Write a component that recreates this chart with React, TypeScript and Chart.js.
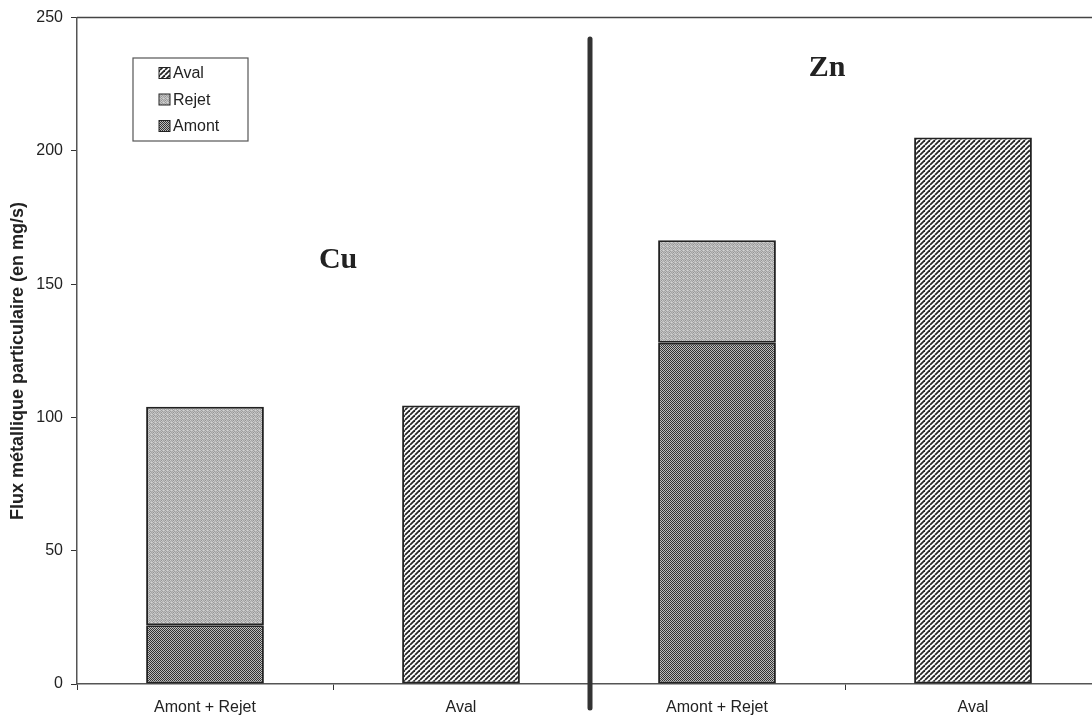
import React, { useEffect, useRef } from "react";
import { Chart, registerables } from "chart.js";

Chart.register(...registerables);

const categories = ["Amont + Rejet", "Aval", "Amont + Rejet", "Aval"];
const amont = [22, null, 128, null];
const rejet = [82, null, 38.5, null];
const aval = [null, 104.5, null, 205];
const yTicks = [0, 50, 100, 150, 200, 250];
const yTitle = "Flux métallique particulaire (en mg/s)";
const annotations = [
  { text: "Cu", index: 0.52, value: 159 },
  { text: "Zn", index: 2.43, value: 231 },
];

const SANS = "'Liberation Sans', Arial, sans-serif";

function makePattern(kind: string): CanvasPattern | string {
  const c = document.createElement("canvas");
  const ctx = c.getContext("2d");
  if (!ctx) return "#888";
  if (kind === "amont") {
    c.width = 2; c.height = 2;
    ctx.fillStyle = "#bdbdbd"; ctx.fillRect(0, 0, 2, 2);
    ctx.fillStyle = "#333"; ctx.fillRect(0, 0, 1, 1); ctx.fillRect(1, 1, 1, 1);
  } else if (kind === "rejet") {
    c.width = 4; c.height = 4;
    const g = [
      ["#bcbcbc", "#939393", "#cacaca", "#a4a4a4"],
      ["#a0a0a0", "#cdcdcd", "#acacac", "#c0c0c0"],
      ["#c6c6c6", "#999999", "#bebebe", "#d2d2d2"],
      ["#a8a8a8", "#c4c4c4", "#9c9c9c", "#b8b8b8"],
    ];
    for (let y = 0; y < 4; y++) for (let x = 0; x < 4; x++) { ctx.fillStyle = g[y][x]; ctx.fillRect(x, y, 1, 1); }
  } else {
    c.width = 5; c.height = 5;
    ctx.fillStyle = "#ffffff"; ctx.fillRect(0, 0, 5, 5);
    ctx.strokeStyle = "#262626"; ctx.lineWidth = 1.8;
    for (let o = -5; o <= 10; o += 5) {
      ctx.beginPath(); ctx.moveTo(o, 5); ctx.lineTo(o + 5, 0); ctx.stroke();
    }
  }
  return ctx.createPattern(c, "repeat") as CanvasPattern;
}

export default function App() {
  const ref = useRef<HTMLCanvasElement>(null);
  useEffect(() => {
    if (!ref.current) return;
    const pA = makePattern("amont");
    const pR = makePattern("rejet");
    const pV = makePattern("aval");
    const decor = {
      id: "decor",
      afterDraw(chart: any) {
        const { ctx, chartArea } = chart;
        const xs = chart.scales.x;
        const ys = chart.scales.y;
        ctx.save();
        // top border
        ctx.strokeStyle = "#444"; ctx.lineWidth = 1.5;
        ctx.beginPath(); ctx.moveTo(chartArea.left, chartArea.top); ctx.lineTo(chartArea.right, chartArea.top); ctx.stroke();
        // vertical separator
        const sx = (xs.getPixelForTick(1) + xs.getPixelForTick(2)) / 2 + 1;
        ctx.strokeStyle = "#333"; ctx.lineWidth = 5; ctx.lineCap = "round";
        ctx.beginPath(); ctx.moveTo(sx, ys.getPixelForValue(242)); ctx.lineTo(sx, chartArea.bottom + 24); ctx.stroke();
        // y-axis title
        ctx.fillStyle = "#222";
        ctx.font = `bold 18px ${SANS}`;
        ctx.textAlign = "center"; ctx.textBaseline = "middle";
        ctx.save();
        ctx.translate(18, 361);
        ctx.rotate(-Math.PI / 2);
        ctx.fillText(yTitle, 0, 0);
        ctx.restore();
        // annotations
        ctx.fillStyle = "#222";
        ctx.font = "bold 30px 'Liberation Serif', 'DejaVu Serif', serif";
        for (const a of annotations) {
          ctx.fillText(a.text, xs.getPixelForValue(a.index), ys.getPixelForValue(a.value));
        }
        // legend
        const lx = 133, ly = 58, lw = 115, lh = 83;
        ctx.fillStyle = "#fff"; ctx.fillRect(lx, ly, lw, lh);
        ctx.strokeStyle = "#555"; ctx.lineWidth = 1.2; ctx.strokeRect(lx, ly, lw, lh);
        const items = [...chart.data.datasets].reverse();
        ctx.font = `16px ${SANS}`;
        ctx.textAlign = "left";
        items.forEach((d: any, i: number) => {
          const cy = ly + 15 + i * 26.5;
          ctx.fillStyle = d.backgroundColor;
          ctx.fillRect(lx + 26, cy - 5.5, 11, 11);
          ctx.strokeStyle = "#222"; ctx.lineWidth = 1;
          ctx.strokeRect(lx + 26, cy - 5.5, 11, 11);
          ctx.fillStyle = "#222";
          ctx.fillText(d.label, lx + 40, cy + 1);
        });
        ctx.restore();
      },
    };
    const common = { borderColor: "#222", borderWidth: 2, borderSkipped: false, barPercentage: 0.46, categoryPercentage: 1 };
    const chart = new Chart(ref.current, {
      type: "bar",
      data: {
        labels: categories,
        datasets: [
          { label: "Amont", data: amont, backgroundColor: pA, ...common },
          { label: "Rejet", data: rejet, backgroundColor: pR, ...common },
          { label: "Aval", data: aval, backgroundColor: pV, ...common },
        ] as any,
      },
      options: {
        animation: false,
        responsive: false,
        layout: { padding: { top: 15, right: 9, left: 0, bottom: 0 } },
        plugins: { legend: { display: false }, tooltip: { enabled: false } },
        scales: {
          x: {
            stacked: true,
            afterFit: (s: any) => { s.height = 39; },
            grid: { drawOnChartArea: false, offset: true, tickLength: 6, color: "#333" },
            border: { color: "#555", width: 1.5 },
            ticks: { color: "#222", padding: 8, font: { family: SANS, size: 16 } },
          },
          y: {
            stacked: true,
            min: 0,
            max: 250,
            afterFit: (s: any) => { s.width = 77; },
            afterBuildTicks: (s: any) => { s.ticks = yTicks.map((v) => ({ value: v })); },
            grid: { drawOnChartArea: false, tickLength: 6, color: "#333" },
            border: { color: "#555", width: 1.5 },
            ticks: { color: "#222", padding: 8, font: { family: SANS, size: 16 } },
          },
        },
      } as any,
      plugins: [decor],
    });
    return () => chart.destroy();
  }, []);
  return (
    <div style={{ position: "absolute", left: 0, top: 0, width: 1092, height: 723, overflow: "hidden", background: "#fff" }}>
      <canvas ref={ref} width={1110} height={723} style={{ display: "block", width: 1110, height: 723 }} />
    </div>
  );
}
